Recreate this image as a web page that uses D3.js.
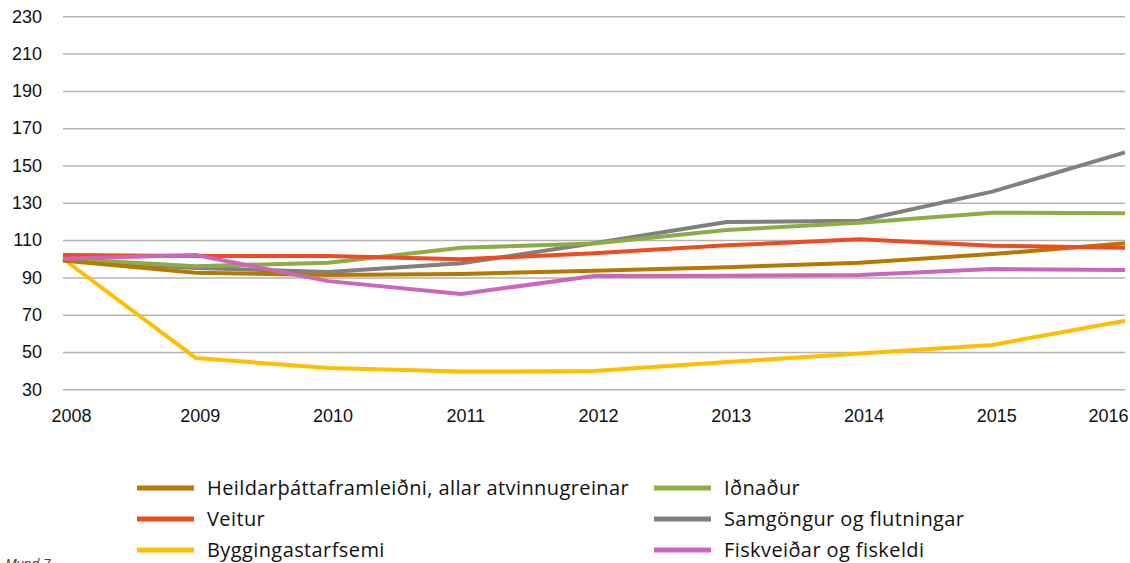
<!DOCTYPE html>
<html>
<head>
<meta charset="utf-8">
<script src="https://cdn.jsdelivr.net/npm/d3@7"></script>
<style>
  body { margin: 0; background: #fff; }
  svg { font-family: "Open Sans", Lato, sans-serif; }
  .grid line { stroke: #b3b3b3; stroke-width: 1.5; }
  .axis text { fill: #111; font-size: 18px; font-weight: 500; }
</style>
</head>
<body>
<svg id="chart"></svg>
<script>
// data
const years = ['2008', '2009', '2010', '2011', '2012', '2013', '2014', '2015', '2016'];
const yTicks = [30, 50, 70, 90, 110, 130, 150, 170, 190, 210, 230];

const seriesNames = [
    'Heildarþáttaframleiðni, allar atvinnugreinar',
    'Iðnaður',
    'Veitur',
    'Samgöngur og flutningar',
    'Byggingastarfsemi',
    'Fiskveiðar og fiskeldi'
];
const heildar  = [99, 92.5, 91.3, 91.8, 93.6, 95.4, 97.9, 102.5, 108.3];
const idnadur  = [100, 96, 97.9, 105.9, 108.2, 115.4, 119.3, 124.7, 124.4];
const veitur   = [102, 101.5, 101.5, 99.7, 102.9, 107.2, 110.4, 107, 105.9];
const samgong  = [99, 95, 92.9, 97.6, 108.3, 119.7, 120.4, 136, 157];
const bygging  = [100, 46.8, 41.4, 39.5, 39.8, 44.6, 49.2, 53.8, 66.8];
const fiskur   = [100, 102, 88, 81.1, 90.8, 90.9, 91.3, 94.5, 94];

const colors = {
    'Heildarþáttaframleiðni, allar atvinnugreinar': '#b57900',
    'Iðnaður': '#8fab45',
    'Veitur': '#ee4b23',
    'Samgöngur og flutningar': '#808080',
    'Byggingastarfsemi': '#ffbe00',
    'Fiskveiðar og fiskeldi': '#cc66bb'
};

const series = [
    { name: seriesNames[4], values: bygging },
    { name: seriesNames[3], values: samgong },
    { name: seriesNames[1], values: idnadur },
    { name: seriesNames[0], values: heildar },
    { name: seriesNames[2], values: veitur },
    { name: seriesNames[5], values: fiskur }
];

const width = 1130, height = 563;
const plotLeft = 63, plotRight = 1125, plotTop = 16.3, plotBottom = 389.3;

const svg = d3.select('#chart')
    .attr('width', width)
    .attr('height', height);

const x = d3.scalePoint()
    .domain(years)
    .range([plotLeft, plotRight]);

const y = d3.scaleLinear()
    .domain([30, 230])
    .range([plotBottom, plotTop]);

// gridlines
svg.append('g')
    .attr('class', 'grid')
    .attr('transform', `translate(${plotLeft},0)`)
    .call(d3.axisRight(y).tickValues(yTicks).tickSize(plotRight - plotLeft).tickFormat(''))
    .call(g => g.select('.domain').remove());

// y tick labels
svg.append('g')
    .attr('class', 'axis')
    .attr('transform', 'translate(42,0)')
    .call(d3.axisLeft(y).tickValues(yTicks).tickSize(0).tickPadding(0))
    .call(g => g.select('.domain').remove());

// x tick labels
const xAxis = svg.append('g')
    .attr('class', 'axis')
    .attr('transform', `translate(0,${plotBottom})`)
    .call(d3.axisBottom(x).tickSize(0).tickPadding(20))
    .call(g => g.select('.domain').remove());
xAxis.selectAll('.tick text')
    .attr('dx', (d, i) => i === 0 ? 8 : (i === years.length - 1 ? -17 : 4));

// lines
const line = d3.line()
    .x((d, i) => x(years[i]))
    .y(d => y(d));

svg.append('g')
    .selectAll('path')
    .data(series)
    .join('path')
    .attr('fill', 'none')
    .attr('stroke', d => colors[d.name])
    .attr('stroke-width', 4)
    .attr('stroke-linejoin', 'round')
    .attr('d', d => line(d.values));

// legend
const legendItems = [
    { name: seriesNames[0], col: 0, row: 0 },
    { name: seriesNames[2], col: 0, row: 1 },
    { name: seriesNames[4], col: 0, row: 2 },
    { name: seriesNames[1], col: 1, row: 0 },
    { name: seriesNames[3], col: 1, row: 1 },
    { name: seriesNames[5], col: 1, row: 2 }
];
const colX = [137, 654];

const legend = svg.append('g')
    .selectAll('g')
    .data(legendItems)
    .join('g')
    .attr('transform', d => `translate(${colX[d.col]},${488 + d.row * 31})`);

legend.append('line')
    .attr('x1', 0)
    .attr('x2', 57)
    .attr('stroke', d => colors[d.name])
    .attr('stroke-width', 5);

legend.append('text')
    .attr('x', 70)
    .attr('dy', '0.35em')
    .attr('font-size', 20)
    .attr('letter-spacing', 0.4)
    .attr('fill', '#111')
    .text(d => d.name);

svg.append('text')
    .attr('x', 5)
    .attr('y', 569)
    .attr('font-size', 14)
    .attr('font-style', 'italic')
    .attr('fill', '#444')
    .text('Mynd 7');
</script>
</body>
</html>
